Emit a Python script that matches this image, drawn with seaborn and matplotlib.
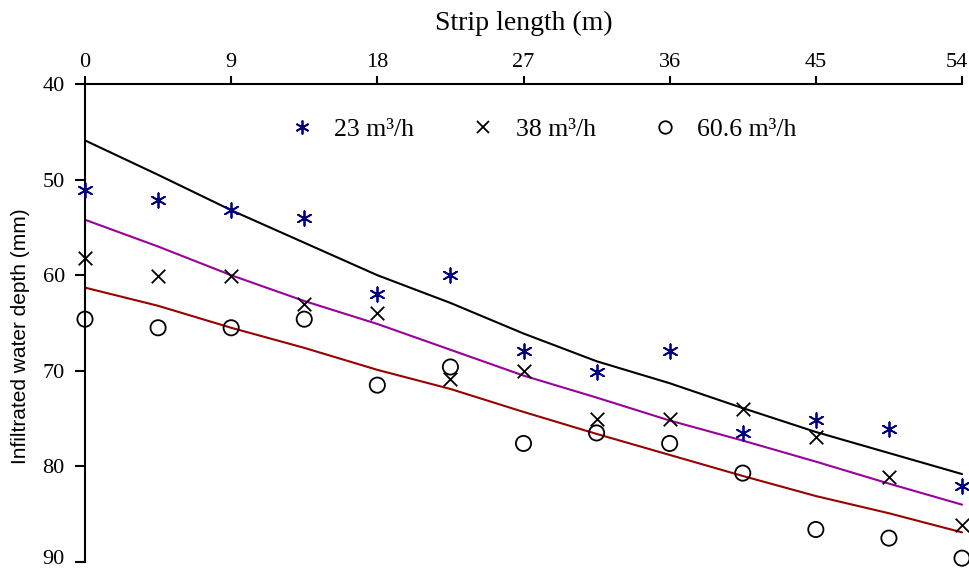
import numpy as np
import pandas as pd
import matplotlib
matplotlib.use("Agg")
import matplotlib.pyplot as plt
from matplotlib.lines import Line2D
from matplotlib.transforms import ScaledTranslation
import seaborn as sns

# ---- data ----
strip_length = [0, 4.5, 9, 13.5, 18, 22.5, 27, 31.5, 36, 40.5, 45, 49.5, 54]
obs_23 = [51.1, 52.1, 53.2, 54.0, 62.0, 60.0, 67.9, 70.1, 67.9, 76.5, 75.1, 76.1, 82.0]
obs_38 = [58.2, 60.1, 60.1, 63.0, 64.0, 70.9, 70.0, 75.0, 75.0, 74.0, 76.9, 81.1, 86.1]
obs_606 = [64.6, 65.5, 65.5, 64.6, 71.5, 69.6, 77.6, 76.5, 77.6, 80.7, 86.6, 87.5, 89.6]
fit_23 = [45.9, 49.5, 53.2, 56.6, 60.0, 62.9, 66.1, 69.0, 71.3, 73.9, 76.4, 78.6, 80.8]
fit_38 = [54.2, 57.0, 60.0, 62.7, 65.1, 67.8, 70.5, 72.8, 75.2, 77.3, 79.5, 81.8, 84.0]
fit_606 = [61.3, 63.2, 65.5, 67.6, 69.9, 71.9, 74.3, 76.6, 78.8, 81.0, 83.1, 84.9, 86.9]
series_labels = ["23 m³/h", "38 m³/h", "60.6 m³/h"]
x_ticks = [0, 9, 18, 27, 36, 45, 54]
y_ticks = [40, 50, 60, 70, 80, 90]

sns.set_theme(style="white")
plt.rcParams["font.family"] = ["Liberation Serif", "DejaVu Serif"]

fig = plt.figure(figsize=(9.69, 5.70), dpi=100)
ax = fig.add_axes([85 / 969, 8 / 570, 877 / 969, 478 / 570])

# fitted lines
line_colors = ["#000000", "#990099", "#990000"]
for fit, c in zip([fit_23, fit_38, fit_606], line_colors):
    sns.lineplot(x=strip_length, y=fit, color=c, linewidth=1.5, ax=ax,
                 clip_on=False, zorder=2)

# observed points
star = (6, 2, 0)
sns.scatterplot(x=strip_length, y=obs_23, marker=star, color="#000080",
                s=110, linewidth=1.3, ax=ax, clip_on=False, zorder=3)
sns.scatterplot(x=strip_length, y=obs_38, marker="x", color="black",
                s=95, linewidth=1.3, ax=ax, clip_on=False, zorder=3)
sns.scatterplot(x=strip_length, y=obs_606, marker="o", facecolors="none",
                edgecolor="black", s=120, linewidth=1.3, ax=ax, clip_on=False,
                zorder=3)

ax.set_xlim(0, 54)
ax.set_ylim(90, 40)
ax.xaxis.tick_top()
ax.xaxis.set_label_position("top")
ax.set_xticks(x_ticks)
ax.set_yticks(y_ticks)
ax.tick_params(axis="x", which="both", top=True, bottom=False, direction="out",
               length=6, width=1.5, color="black", pad=2.5, labelsize=16,
               labelcolor="black")
ax.tick_params(axis="y", which="both", left=True, direction="out", length=7,
               width=1.5, color="black", pad=7.5, labelsize=16,
               labelcolor="black")

# nudge the end tick labels inward a little, as in the reference
last = ax.get_xticklabels()[-1]
last.set_transform(last.get_transform() +
                   ScaledTranslation(-5 / 100, 0, fig.dpi_scale_trans))
bottom_lbl = ax.get_yticklabels()[-1]
bottom_lbl.set_transform(bottom_lbl.get_transform() +
                         ScaledTranslation(0, 5 / 100, fig.dpi_scale_trans))

for side in ["right", "bottom"]:
    ax.spines[side].set_visible(False)
for side in ["top", "left"]:
    ax.spines[side].set_color("black")
    ax.spines[side].set_linewidth(1.5)
ax.grid(False)

ax.set_xlabel("Strip length (m)", fontsize=20, color="black", labelpad=17)
ax.set_ylabel("Infiltrated water depth (mm)", fontsize=15, color="black",
              family=["Liberation Sans", "DejaVu Sans"])
ax.yaxis.set_label_coords(-0.063, 0.473)

handles = [
    Line2D([], [], linestyle="none", marker=star, color="#000080",
           markersize=10, markeredgewidth=1.3),
    Line2D([], [], linestyle="none", marker="x", color="black",
           markersize=9, markeredgewidth=1.3),
    Line2D([], [], linestyle="none", marker="o", markerfacecolor="none",
           markeredgecolor="black", markersize=9, markeredgewidth=1.3),
]
leg = ax.legend(handles, series_labels, ncol=3, frameon=False, fontsize=18.5,
                loc="center", bbox_to_anchor=(0.522, 0.905),
                handlelength=1.0, handletextpad=0.75, columnspacing=2.2)
for t in leg.get_texts():
    t.set_color("black")

fig.savefig("out.png", dpi=100)
